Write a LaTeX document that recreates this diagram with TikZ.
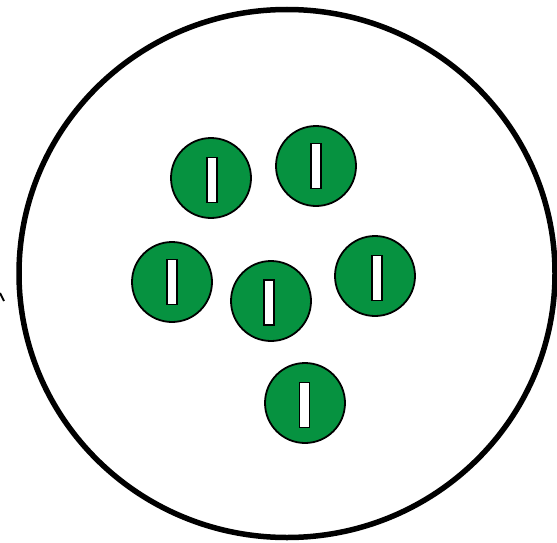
\documentclass[tikz,border=0pt]{standalone}
\usepackage{tikz}
\usetikzlibrary{calc}
\definecolor{cellgreen}{RGB}{6,146,64}

\begin{document}
\begin{tikzpicture}
	[x=1pt,y=-1pt,
	 cell/.style={circle,draw=black,line width=1.8pt,fill=cellgreen,minimum size=80pt,inner sep=0pt},
	 slot/.style={rectangle,draw=black,line width=1.6pt,fill=white,minimum width=10pt,minimum height=45pt,inner sep=0pt}]
	\useasboundingbox (0,0) rectangle (557,543);
	% outer boundary
	\draw[line width=5.5pt] (287,273.5) ellipse (268 and 264);
	% small mark on the left
	\draw[line width=2pt] (0,293) -- (4,301);
	%
	% cells
	%
	\node[cell] (C1) at (211,178) {};
	\node[cell] (C2) at (316,166) {};
	\node[cell] (C3) at (172,282) {};
	\node[cell] (C4) at (271,301) {};
	\node[cell] (C5) at (375,276) {};
	\node[cell] (C6) at (305,403) {};
	% slots
	\node[slot] (S1) at ($(C1)+(1,2)$) {};
	\node[slot] (S2) at ($(C2)+(0,0)$) {};
	\node[slot] (S3) at ($(C3)+(0,0)$) {};
	\node[slot] (S4) at ($(C4)+(-2,1.5)$) {};
	\node[slot] (S5) at ($(C5)+(2,2)$) {};
	\node[slot] (S6) at ($(C6)+(-0.5,2)$) {};
\end{tikzpicture}
\end{document}
